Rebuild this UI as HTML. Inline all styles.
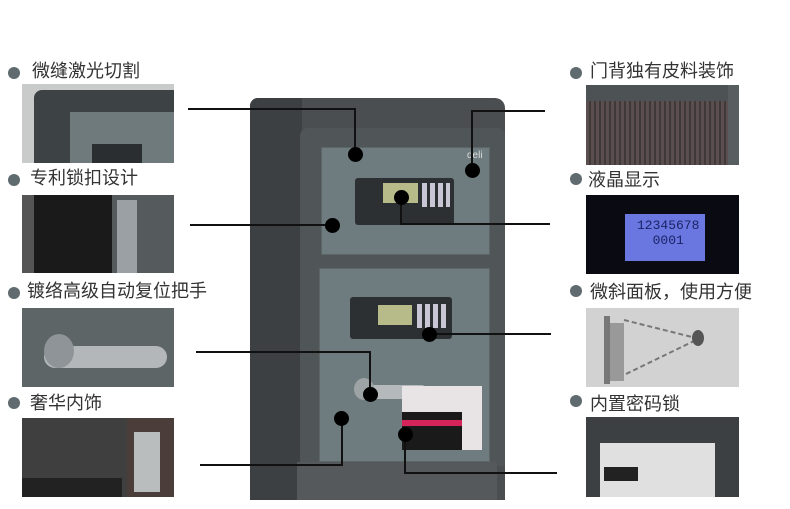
<!DOCTYPE html>
<html><head><meta charset="utf-8"><style>
body{margin:0;width:790px;height:509px;background:#fff;position:relative;overflow:hidden;font-family:"Liberation Sans","Noto Sans CJK SC",sans-serif}
div{position:absolute;box-sizing:border-box}
.b{width:12px;height:12px;border-radius:50%;background:#5f6b6f}
.t{font-size:18px;color:#333;white-space:nowrap;line-height:20px}
.h{height:2px;background:#111}.v{width:2px;background:#111}
.d{width:15px;height:15px;border-radius:50%;background:#000}
</style></head><body>
<!-- left labels -->
<div class="b" style="left:8px;top:67px"></div><div class="t" style="left:32px;top:61px">微缝激光切割</div>
<div class="b" style="left:8px;top:174px"></div><div class="t" style="left:30px;top:168px">专利锁扣设计</div>
<div class="b" style="left:8px;top:287px"></div><div class="t" style="left:27px;top:281px">镀络高级自动复位把手</div>
<div class="b" style="left:8px;top:397px"></div><div class="t" style="left:30px;top:393px">奢华内饰</div>
<!-- left images -->
<div style="left:22px;top:84px;width:152px;height:79px;background:#c9cbcb">
 <div style="left:12px;top:6px;width:140px;height:73px;background:#3d4244;border-radius:8px 0 0 0"></div>
 <div style="left:48px;top:28px;width:104px;height:51px;background:#6e7a7c"></div>
 <div style="left:70px;top:60px;width:50px;height:19px;background:#2b2e30"></div></div>
<div style="left:22px;top:195px;width:152px;height:78px;background:#1a1a1a">
 <div style="left:0;top:0;width:12px;height:78px;background:#555"></div>
 <div style="left:90px;top:0;width:62px;height:78px;background:#555b5d"></div>
 <div style="left:95px;top:5px;width:20px;height:73px;background:#9aa0a3"></div></div>
<div style="left:22px;top:308px;width:152px;height:79px;background:#5d6567">
 <div style="left:22px;top:38px;width:123px;height:22px;border-radius:11px;background:#b3b7b9"></div>
 <div style="left:22px;top:26px;width:30px;height:34px;border-radius:50%;background:#8e9497"></div></div>
<div style="left:22px;top:418px;width:152px;height:79px;background:#3f3f3f">
 <div style="left:105px;top:0;width:47px;height:79px;background:#4a3d3a"></div>
 <div style="left:112px;top:14px;width:26px;height:60px;background:#b9bdbe"></div>
 <div style="left:0;top:60px;width:100px;height:19px;background:#222"></div></div>
<!-- right labels -->
<div class="b" style="left:570px;top:67px"></div><div class="t" style="left:590px;top:61px">门背独有皮料装饰</div>
<div class="b" style="left:570px;top:173px"></div><div class="t" style="left:588px;top:170px">液晶显示</div>
<div class="b" style="left:570px;top:285px"></div><div class="t" style="left:590px;top:282px">微斜面板，使用方便</div>
<div class="b" style="left:570px;top:395px"></div><div class="t" style="left:590px;top:394px">内置密码锁</div>
<!-- right images -->
<div style="left:586px;top:85px;width:153px;height:80px;background:repeating-linear-gradient(90deg,#5a4f4e 0 3px,#3f3939 3px 5px)">
 <div style="left:0;top:0;width:153px;height:16px;background:#4d5254"></div>
 <div style="left:142px;top:0;width:11px;height:80px;background:#585e60"></div></div>
<div style="left:586px;top:195px;width:153px;height:79px;background:#0a0a12">
 <div style="left:39px;top:19px;width:80px;height:47px;background:#6a77e0;color:#1a2366;font-family:'Liberation Mono',monospace;font-size:13px;line-height:15px;padding:4px 0 0 12px">12345678<br>&nbsp;&nbsp;0001</div></div>
<div style="left:586px;top:308px;width:153px;height:79px;background:#d2d2d2">
 <div style="left:18px;top:8px;width:6px;height:68px;background:#777"></div>
 <div style="left:24px;top:15px;width:14px;height:58px;background:#999"></div>
 <svg style="position:absolute;left:0;top:0" width="153" height="79"><path d="M38 12L110 30M40 66L110 32" stroke="#777" stroke-width="2" stroke-dasharray="5 3"/><ellipse cx="112" cy="30" rx="6" ry="8" fill="#555"/></svg></div>
<div style="left:586px;top:417px;width:153px;height:80px;background:#3c4043">
 <div style="left:14px;top:26px;width:115px;height:54px;background:#e0e0e0"></div>
 <div style="left:18px;top:50px;width:34px;height:14px;background:#222"></div></div>
<!-- safe -->
<div style="left:250px;top:98px;width:255px;height:402px;background:#4a4e51;border-radius:8px 10px 0 0"></div>
<div style="left:250px;top:98px;width:52px;height:402px;background:#3c4043;border-radius:8px 0 0 0"></div>
<div style="left:300px;top:128px;width:205px;height:338px;background:#505558;border-radius:8px 8px 0 0"></div>
<div style="left:297px;top:462px;width:200px;height:38px;background:#56595c"></div>
<div style="left:321px;top:147px;width:169px;height:108px;background:#6f7c7f;border:1px solid #5c6668"></div>
<div style="left:319px;top:268px;width:171px;height:194px;background:#6f7c7f;border:1px solid #5c6668"></div>
<div style="left:467px;top:151px;width:22px;height:10px;color:#ddd;font-size:10px;line-height:10px">deli</div>
<div style="left:355px;top:178px;width:99px;height:47px;background:#2d3032;border-radius:3px"></div>
<div style="left:383px;top:183px;width:35px;height:20px;background:#b7bb8a"></div>
<div style="left:422px;top:183px;width:28px;height:24px;background:repeating-linear-gradient(90deg,#c9c6d6 0 5px,#2d3032 5px 8px)"></div>
<div style="left:350px;top:297px;width:102px;height:42px;background:#2d3032;border-radius:3px"></div>
<div style="left:378px;top:305px;width:34px;height:20px;background:#b7bb8a"></div>
<div style="left:417px;top:304px;width:30px;height:24px;background:repeating-linear-gradient(90deg,#c9c6d6 0 5px,#2d3032 5px 8px)"></div>
<div style="left:356px;top:385px;width:72px;height:14px;background:#b5b9bb;border-radius:7px"></div>
<div style="left:354px;top:378px;width:20px;height:22px;background:#9ea3a5;border-radius:50%"></div>
<div style="left:402px;top:386px;width:80px;height:64px;background:#e8e4e6"></div>
<div style="left:402px;top:412px;width:60px;height:38px;background:#1a1a1a"></div>
<div style="left:402px;top:420px;width:60px;height:6px;background:#d4245a"></div>
<!-- connectors -->
<div class="h" style="left:188px;top:108px;width:168px"></div><div class="v" style="left:354px;top:108px;height:46px"></div><div class="d" style="left:348px;top:147px"></div>
<div class="h" style="left:190px;top:224px;width:142px"></div><div class="d" style="left:325px;top:218px"></div>
<div class="h" style="left:196px;top:351px;width:175px"></div><div class="v" style="left:369px;top:351px;height:42px"></div><div class="d" style="left:363px;top:387px"></div>
<div class="h" style="left:200px;top:464px;width:143px"></div><div class="v" style="left:341px;top:418px;height:48px"></div><div class="d" style="left:334px;top:411px"></div>
<div class="h" style="left:472px;top:110px;width:73px"></div><div class="v" style="left:471px;top:110px;height:60px"></div><div class="d" style="left:465px;top:163px"></div>
<div class="h" style="left:401px;top:223px;width:149px"></div><div class="v" style="left:400px;top:197px;height:28px"></div><div class="d" style="left:394px;top:190px"></div>
<div class="h" style="left:429px;top:333px;width:122px"></div><div class="d" style="left:422px;top:327px"></div>
<div class="h" style="left:405px;top:472px;width:152px"></div><div class="v" style="left:404px;top:434px;height:40px"></div><div class="d" style="left:398px;top:427px"></div>
</body></html>
